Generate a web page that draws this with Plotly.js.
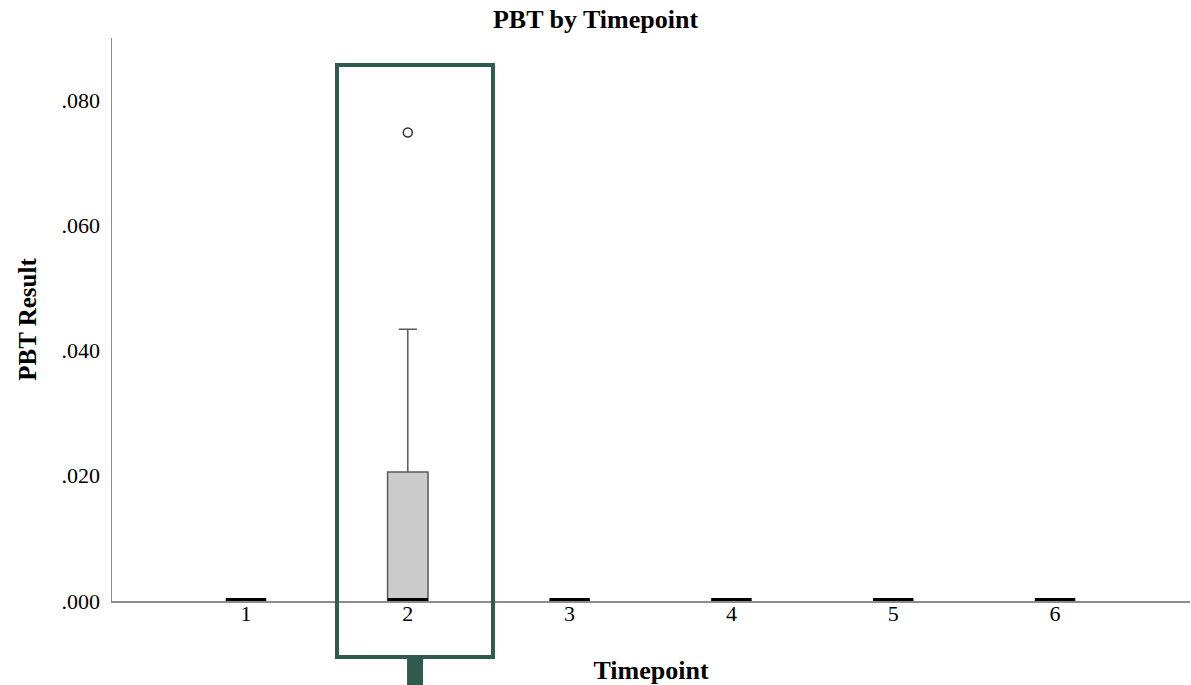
<!DOCTYPE html>
<html>
<head>
<meta charset="utf-8">
<script src="https://cdn.plot.ly/plotly-3.0.1.min.js"></script>
<style>html,body{margin:0;padding:0;background:#fff;}#chart{width:1191px;height:685px;}</style>
</head>
<body>
<div id="chart"></div>
<script>
// Data
const timepoints = ['1', '2', '3', '4', '5', '6'];
const q1Values = [0, 0, 0, 0, 0, 0];
const medianValues = [0, 0, 0, 0, 0, 0];
const q3Values = [0, 0.0206, 0, 0, 0, 0];
const lowerFence = [0, 0, 0, 0, 0, 0];
const upperFence = [0, 0.0434, 0, 0, 0, 0];
const outlierTimepoints = ['2'];
const outlierValues = [0.0748];
const yTickVals = [0, 0.02, 0.04, 0.06, 0.08];
const yTickText = ['.000', '.020', '.040', '.060', '.080'];

const serif = '"Liberation Serif", "Times New Roman", serif';

const traces = [
  {
    type: 'box',
    x: timepoints,
    q1: q1Values,
    median: medianValues,
    q3: q3Values,
    lowerfence: lowerFence,
    upperfence: upperFence,
    width: 0.25,
    whiskerwidth: 0.45,
    fillcolor: '#cccccc',
    line: {color: '#595959', width: 1.5},
    hoverinfo: 'skip',
    showlegend: false
  },
  {
    type: 'scatter',
    mode: 'markers',
    x: outlierTimepoints,
    y: outlierValues,
    marker: {symbol: 'circle-open', size: 9, color: '#333333', line: {width: 1.5}},
    cliponaxis: false,
    hoverinfo: 'skip',
    showlegend: false
  }
];

// Median bars (black), a few pixels thick, anchored at each median value
const medianShapes = timepoints.map((t, i) => ({
  type: 'rect', xref: 'x', yref: 'y', ysizemode: 'pixel', yanchor: medianValues[i],
  x0: i - 0.125, x1: i + 0.125, y0: 0, y1: 3,
  line: {width: 0}, fillcolor: '#000000', layer: 'above'
}));

const layout = {
  width: 1191, height: 685,
  margin: {l: 112, r: 1, t: 38, b: 84},
  paper_bgcolor: '#ffffff', plot_bgcolor: '#ffffff',
  font: {family: serif, color: '#000000', size: 22},
  title: {text: '<b>PBT by Timepoint</b>', font: {family: serif, size: 26, color: '#000'}, x: 0.5, xanchor: 'center', y: 0.986, yanchor: 'top'},
  xaxis: {
    type: 'category',
    range: [-0.828, 5.834],
    showgrid: false, zeroline: false,
    showline: true, linecolor: '#8c8c8c', linewidth: 1.5,
    ticks: '', tickfont: {family: serif, size: 22}, ticklabelstandoff: -8,
    title: {text: '<b>Timepoint</b>', font: {family: serif, size: 26}, standoff: 38}
  },
  yaxis: {
    range: [0, 0.0899],
    tickvals: yTickVals, ticktext: yTickText,
    showgrid: false, zeroline: false,
    showline: true, linecolor: '#8c8c8c', linewidth: 1.5,
    ticks: '', tickfont: {family: serif, size: 22}, ticklabelstandoff: 6,
    title: {text: '<b>PBT Result</b>', font: {family: serif, size: 25}, standoff: 18}
  },
  shapes: medianShapes.concat([
    {type: 'rect', xref: 'paper', yref: 'paper', x0: 0.2087, x1: 0.3534, y0: -0.0995, y1: 0.9520,
     line: {color: '#2e5b4d', width: 4}, fillcolor: 'rgba(0,0,0,0)', layer: 'above'},
    {type: 'rect', xref: 'paper', yref: 'paper', x0: 0.2737, x1: 0.2885, y0: -0.1492, y1: -0.1030,
     line: {width: 0}, fillcolor: '#2e5b4d', layer: 'above'}
  ])
};

Plotly.newPlot('chart', traces, layout, {displayModeBar: false, staticPlot: true});
</script>
</body>
</html>
